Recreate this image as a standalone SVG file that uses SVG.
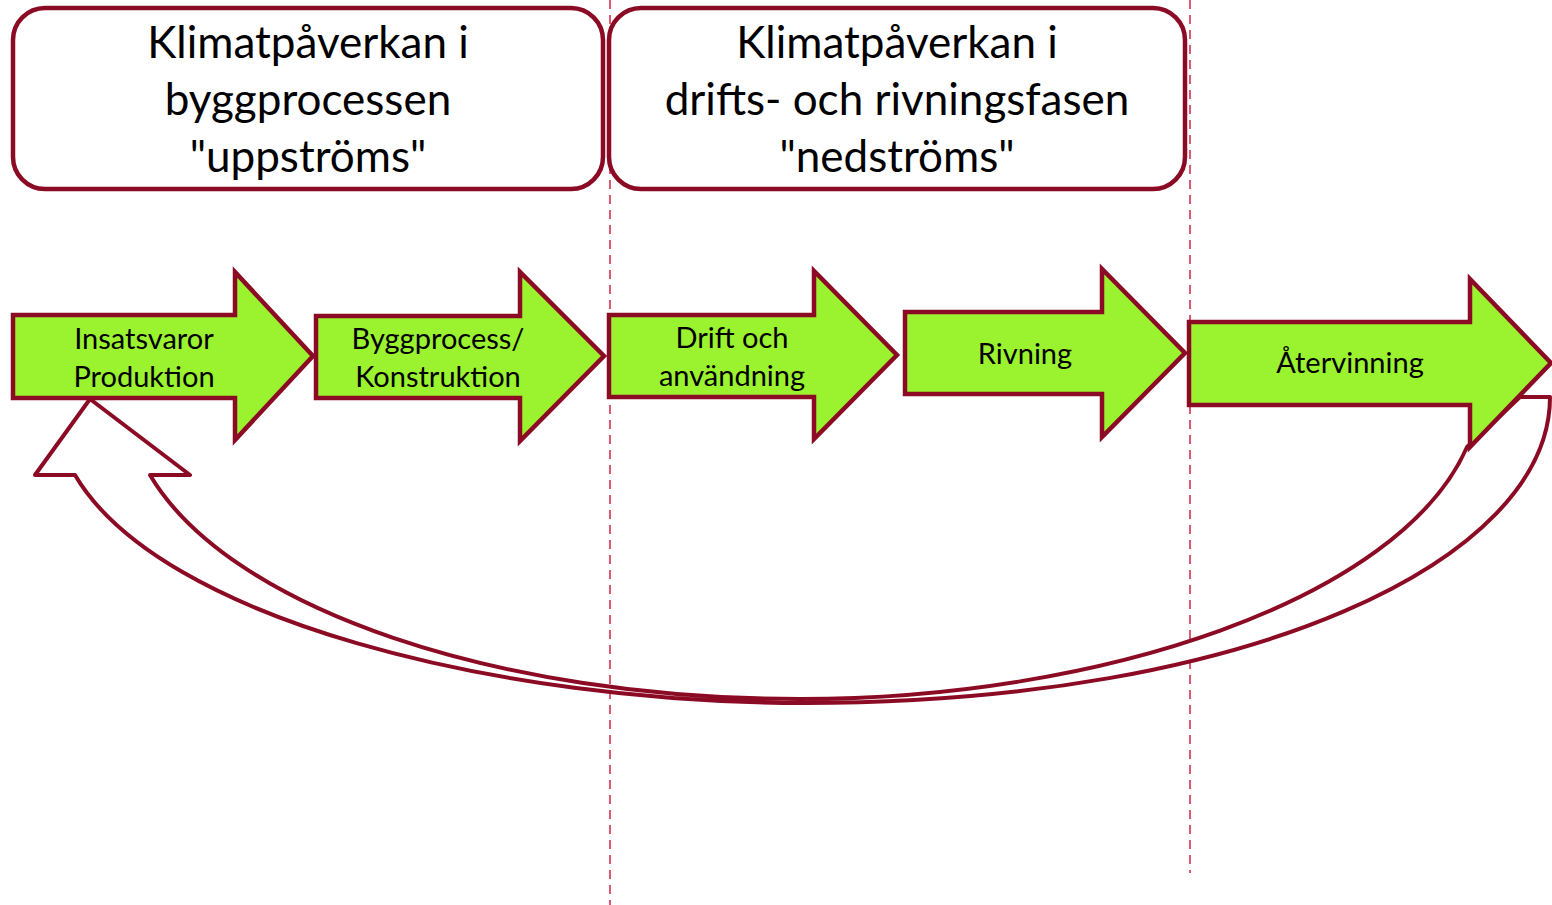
<svg xmlns="http://www.w3.org/2000/svg" width="1552" height="905" viewBox="0 0 1552 905">
<style>
.box{fill:#fff;stroke:#8c0b24;stroke-width:4.5}
.arr{fill:#9bf22f;stroke:#8c0b24;stroke-width:4.5;stroke-linejoin:miter}
.cur{fill:#fff;stroke:#8c0b24;stroke-width:4;stroke-linejoin:round}
.dash{stroke:#d2344f;stroke-width:1.6;stroke-dasharray:9,6;fill:none}
.h{font-family:Lato,"Open Sans","Liberation Sans",sans-serif;font-size:44px;fill:#000;text-anchor:middle}
.t{font-family:Lato,"Open Sans","Liberation Sans",sans-serif;font-size:29px;fill:#000;text-anchor:middle}
</style>
<rect width="1552" height="905" fill="#fff"/>
<g id="guides">
<line class="dash" x1="610" y1="0" x2="610" y2="905"/>
<line class="dash" x1="1190" y1="0" x2="1190" y2="873"/>
</g>
<g id="header-upstream">
<rect class="box" x="13" y="8" width="590" height="181" rx="32"/>
<text class="h" x="308" y="58">Klimatpåverkan i</text>
<text class="h" x="308" y="115">byggprocessen</text>
<text class="h" x="308" y="172">"uppströms"</text>
</g>
<g id="header-downstream">
<rect class="box" x="609" y="8" width="576" height="181" rx="32"/>
<text class="h" x="897" y="58">Klimatpåverkan i</text>
<text class="h" x="897" y="115">drifts- och rivningsfasen</text>
<text class="h" x="897" y="172">"nedströms"</text>
</g>
<g id="connectors">
<path class="cur" d="M1550,397 C1550,560 1250,703 805,703 C500,703 160,620 75,475 L35,475 L90,399 L190,475 L150,475 C230,610 500,699 800,699 C1100,699 1400,600 1467,447 L1520,397 Z"/>
</g>
<g id="insatsvaror">
<path class="arr" d="M13,315 L235,315 L235,272 L313,356 L235,440 L235,398 L13,398 Z"/>
<text class="t" x="144" y="349">Insatsvaror</text>
<text class="t" x="144" y="387">Produktion</text>
</g>
<g id="byggprocess">
<path class="arr" d="M316,316 L520,316 L520,272 L604,356 L520,441 L520,398 L316,398 Z"/>
<text class="t" x="438" y="349">Byggprocess/</text>
<text class="t" x="438" y="387">Konstruktion</text>
</g>
<g id="drift">
<path class="arr" d="M609,315 L814,315 L814,271 L897,355 L814,439 L814,397 L609,397 Z"/>
<text class="t" x="732" y="348">Drift och</text>
<text class="t" x="732" y="386">användning</text>
</g>
<g id="rivning">
<path class="arr" d="M905,312 L1102,312 L1102,269 L1185,353 L1102,437 L1102,394 L905,394 Z"/>
<text class="t" x="1025" y="364">Rivning</text>
</g>
<g id="atervinning">
<path class="arr" d="M1189,322 L1470,322 L1470,279 L1551,363 L1470,447 L1470,405 L1189,405 Z"/>
<text class="t" x="1350" y="373">Återvinning</text>
</g>
</svg>
